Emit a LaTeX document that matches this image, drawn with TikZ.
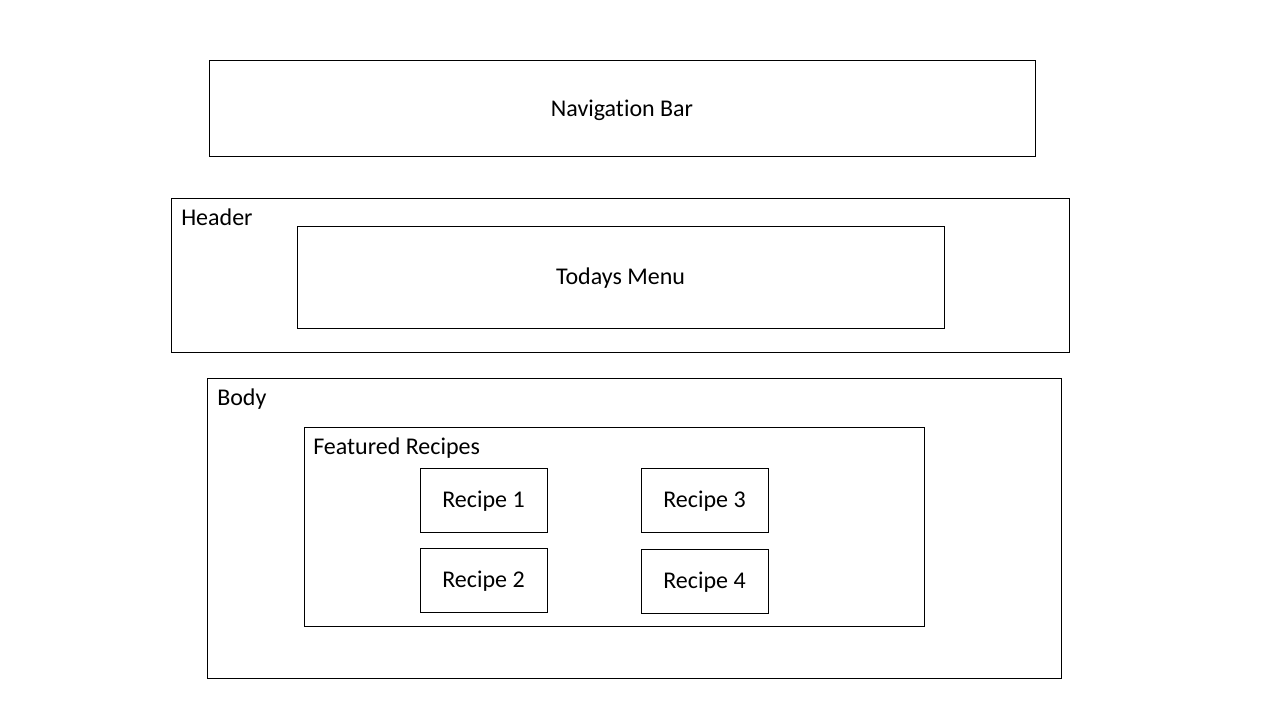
\documentclass[tikz,border=0pt]{standalone}
\usepackage{fontspec}
\setmainfont{Carlito}[Ligatures=NoCommon]

\def\px{0.75pt}

\begin{document}
\begin{tikzpicture}[x=0.75pt,y=-0.75pt]
    \tikzset{
      box/.style={draw,line width=0.75pt,inner sep=0pt,
        text height=15pt,text depth=4pt,
        font=\fontsize{18}{22}\selectfont},
      recipe/.style={box,minimum width=127*\px,minimum height=64*\px},
      tag/.style={anchor=base west,inner sep=0pt,
        font=\fontsize{18}{22}\selectfont}
    }
    \useasboundingbox (0,0) rectangle (1280,720);

    % page sections
    \node[box,minimum width=826*\px,minimum height=96*\px] (nav) at (622,109) {Navigation Bar};
    \node[box,minimum width=898*\px,minimum height=153*\px] (header) at (620,275.5) {};
    \node[box,minimum width=647*\px,minimum height=101*\px] (menu) at (620.5,277.5) {Todays Menu};
    \node[box,minimum width=854*\px,minimum height=300*\px] (body) at (634,528) {};
    \node[box,minimum width=620*\px,minimum height=199*\px] (featured) at (614,526.5) {};

    \node[tag] (headerlbl) at (181,226) {Header};
    \node[tag] (bodylbl) at (217,405) {Body};
    \node[tag] (featuredlbl) at (313,454) {Featured Recipes};

    % recipes
    \node[recipe] (r1) at (483.5,500) {Recipe 1};
    \node[recipe] (r2) at (483.5,580) {Recipe 2};
    \node[recipe] (r3) at (704.5,500) {Recipe 3};
    \node[recipe] (r4) at (704.5,581) {Recipe 4};
  \end{tikzpicture}
\end{document}
